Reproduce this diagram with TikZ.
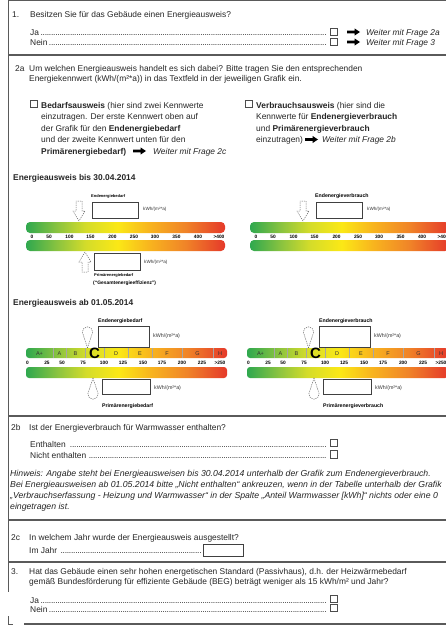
\documentclass[tikz,border=0pt]{standalone}
\usepackage{fontspec}
\setmainfont{Liberation Sans}
\definecolor{tcol}{HTML}{262626}
\definecolor{fcol}{HTML}{5A5A5A}
\definecolor{eg}{HTML}{2FA84F}
\definecolor{eg2}{HTML}{8CC43F}
\definecolor{eyg}{HTML}{D4DC2A}
\definecolor{ey}{HTML}{FBE816}
\definecolor{eo1}{HTML}{F8B41E}
\definecolor{eo}{HTML}{F08428}
\definecolor{er}{HTML}{E5392A}
\pgfdeclarehorizontalshading{energy}{100bp}{color(0bp)=(eg); color(25bp)=(eg); color(33bp)=(eg2); color(40bp)=(eyg); color(48bp)=(ey); color(56bp)=(eo1); color(65bp)=(eo); color(75bp)=(er); color(100bp)=(er)}
\newcommand\dotlead{\leaders\hbox to 2.1pt{\hss.\hss}\hfill}
\tikzset{
 txt/.style={anchor=base west, inner sep=0pt, text=tcol, font=\fontsize{8.4}{10}\selectfont},
 itxt/.style={anchor=base west, inner sep=0pt, text=tcol, font=\fontsize{8.4}{10}\selectfont\itshape},
 htxt/.style={anchor=base west, inner sep=0pt, text=tcol, font=\fontsize{8.7}{10}\selectfont\itshape},
 framel/.style={draw=fcol, line width=1.1pt},
 cbox/.style={draw=black!70, line width=0.6pt, minimum size=7.5pt, inner sep=0pt, anchor=south west},
 vbox/.style={draw=black!75, line width=0.6pt, inner sep=0pt, anchor=north west},
 lbl/.style={inner sep=0pt, text=black, anchor=base west, font=\bfseries\fontsize{4}{5}\selectfont},
 lblb/.style={inner sep=0pt, text=black, anchor=base west, font=\bfseries\fontsize{5.2}{6}\selectfont},
 num/.style={inner sep=0pt, text=black, font=\bfseries\fontsize{4.8}{5}\selectfont},
 cls/.style={inner sep=0pt, text=black!80, font=\fontsize{5.5}{6}\selectfont},
 kwh/.style={inner sep=0pt, anchor=west, text=black!80, font=\fontsize{4.6}{5}\selectfont},
 dashmark/.style={draw=black!60, line width=0.5pt, dash pattern=on 1.2pt off 1pt},
 ebar/.style={shading=energy, rounded corners=4pt},
 fatarr/.pic={\fill[black] (0,-1.4) -- (7.5,-1.4) -- (7.5,-3.6) -- (13,0) -- (7.5,3.6) -- (7.5,1.4) -- (0,1.4) -- cycle;},
 dnarr/.pic={\draw[dashmark] (0,0) -- (-6,-10) -- (-3,-10) -- (-3,-20) -- (3,-20) -- (3,-10) -- (6,-10) -- cycle;},
 drop/.pic={\draw[dashmark] (0,0) -- (-5.2,-16) arc[start angle=180, end angle=360, radius=5.2] -- cycle;},
}
\begin{document}
\begin{tikzpicture}[x=1pt,y=-1pt]
\useasboundingbox (0,0) rectangle (446,634);
\fill[white] (0,0) rectangle (446,634);
\clip (0,0) rectangle (446,634);
% frame
\draw[framel] (8.3,0.8) -- (446,0.8);
\draw[framel] (8.3,0) -- (8.3,592);
\draw[framel] (8.3,55) -- (446,55);
\draw[framel] (8.3,416) -- (446,416);
\draw[framel] (8.3,520) -- (446,520);
\draw[framel] (8.3,562) -- (446,562);
\draw[framel] (24,624) -- (446,624);
\draw[framel] (8.3,616) -- (8.3,624.5) -- (13,624.5);
% section 1
\node[txt] (n1) at (12,18) {1.};
\node[txt] (q1) at (30,18) {Besitzen Sie für das Gebäude einen Energieausweis?};
\node[txt] (ja1) at (30,35.5) {\makebox[298pt][l]{Ja\dotlead}};
\node[cbox] (cja1) at (329.5,36) {};
\pic at (347,32) {fatarr};
\node[itxt] (w2a) at (366,35.5) {Weiter mit Frage 2a};
\node[txt] (nein1) at (30,45.5) {\makebox[298pt][l]{Nein\dotlead}};
\node[cbox] (cnein1) at (329.5,46) {};
\pic at (347,42) {fatarr};
\node[itxt] (w3) at (366,45.5) {Weiter mit Frage 3};
% section 2a
\node[txt] (n2a) at (15,71) {2a};
\node[txt] (q2a1) at (29,71) {Um welchen Energieausweis handelt es sich dabei? Bitte tragen Sie den entsprechenden};
\node[txt] (q2a2) at (29,81.5) {Energiekennwert (kWh/(m²*a)) in das Textfeld in der jeweiligen Grafik ein.};
\node[cbox, minimum size=7pt] (cbed) at (30,108) {};
\node[txt] (l1) at (41,108) {\textbf{Bedarfsausweis} (hier sind zwei Kennwerte};
\node[txt] (l2) at (41,119.5) {einzutragen. Der erste Kennwert oben auf};
\node[txt] (l3) at (41,131) {der Grafik für den \textbf{Endenergiebedarf}};
\node[txt] (l4) at (41,142.5) {und der zweite Kennwert unten für den};
\node[txt] (l5) at (41,154) {\textbf{Primärenergiebedarf)}};
\pic at (133,151) {fatarr};
\node[itxt] (w2c) at (153,154) {Weiter mit Frage 2c};
\node[cbox, minimum size=7pt] (cver) at (245,108) {};
\node[txt] (r1) at (256,108) {\textbf{Verbrauchsausweis} (hier sind die};
\node[txt] (r2) at (256,119.5) {Kennwerte für \textbf{Endenergieverbrauch}};
\node[txt] (r3) at (256,131) {und \textbf{Primärenergieverbrauch}};
\node[txt] (r4) at (256,142.5) {einzutragen)};
\pic at (305,139.5) {fatarr};
\node[itxt] (w2b) at (322,142.5) {Weiter mit Frage 2b};
% bis 30.04.2014
\node[txt, font=\bfseries\fontsize{8.4}{10}\selectfont] (t1) at (13,180.5) {Energieausweis bis 30.04.2014};
\foreach \sx/\lab in {0/Endenergiebedarf,224/Endenergieverbrauch}{
\begin{scope}[xshift=\sx pt]
\ifnum\sx=0
 \node[lbl] at (91,197) {\lab};
\else
 \node[lblb] at (91,197) {\lab};
\fi
\node[vbox, minimum width=46pt, minimum height=16pt] at (92,202) {};
\node[kwh] at (143,209) {kWh/(m²*a)};
\pic at (79,221) {dnarr};
\shade[ebar] (26,222) rectangle (225,233);
\foreach \v/\x in {0/32,50/49,100/69.5,150/90.5,200/112.5,250/134,300/155,350/176.5,400/198,>400/219}
  \node[num] at (\x,237) {\v};
\shade[ebar] (26,240) rectangle (225,251);
\end{scope}}
\pic[yscale=-1] at (85,252) {dnarr};
\node[vbox, minimum width=46pt, minimum height=17pt] (bp) at (94,253) {};
\node[kwh] at (144,262) {kWh/(m²*a)};
\node[lbl] at (94,276) {Primärenergiebedarf};
\node[lbl, font=\bfseries\fontsize{4.9}{5}\selectfont] at (93,284.5) {(“Gesamtenergieeffizienz”)};
% ab 01.05.2014
\node[txt, font=\bfseries\fontsize{8.4}{10}\selectfont] (t2) at (13,305.5) {Energieausweis ab 01.05.2014};
\foreach \sx/\lab/\labb in {0/Endenergiebedarf/Primärenergiebedarf,221/Endenergieverbrauch/Primärenergieverbrauch}{
\begin{scope}[xshift=\sx pt]
\node[lblb] at (98,322) {\lab};
\node[vbox, minimum width=51pt, minimum height=21pt] at (98,326) {};
\node[kwh, font=\fontsize{5.3}{6}\selectfont] at (153,336) {kWh/(m²*a)};
\pic at (87.5,348) {drop};
\shade[ebar, rounded corners=3pt] (26,348) rectangle (227,358);
\foreach \x in {53,66,85,104,128,152,182,213} \draw[black!35, line width=0.4pt] (\x,348) -- (\x,358);
\foreach \l/\x in {A+/39.5,A/59.5,B/75.5,D/116,E/140,F/167,G/197.5,H/220}
  \node[cls] at (\x,353.3) {\l};
\node[inner sep=0pt, font=\bfseries\fontsize{15}{15}\selectfont] at (94.5,353.5) {C};
\foreach \v/\x in {0/27.5,25/47,50/62,75/83,100/104,125/123,150/143,175/162,200/182,225/202,>250/220}
  \node[num] at (\x,363) {\v};
\shade[ebar, rounded corners=3pt] (26,367) rectangle (227,378);
\pic[yscale=-1] at (93,378) {drop};
\node[vbox, minimum width=48pt, minimum height=15pt] at (102,379) {};
\node[kwh, font=\fontsize{5.3}{6}\selectfont] at (154,388) {kWh/(m²*a)};
\node[lblb] at (102,407) {\labb};
\end{scope}}
% section 2b
\node[txt] (n2b) at (11,430.5) {2b};
\node[txt] (q2b) at (29,430.5) {Ist der Energieverbrauch für Warmwasser enthalten?};
\node[txt] (ent) at (30,447) {\makebox[298pt][l]{Enthalten \dotlead}};
\node[cbox] (cent) at (329.5,447) {};
\node[txt] (nent) at (30,458.5) {\makebox[298pt][l]{Nicht enthalten \dotlead}};
\node[cbox] (cnent) at (329.5,458.5) {};
\node[htxt] (h1) at (10,476) {Hinweis: Angabe steht bei Energieausweisen bis 30.04.2014 unterhalb der Grafik zum Endenergieverbrauch.};
\node[htxt] (h2) at (10,487) {Bei Energieausweisen ab 01.05.2014 bitte „Nicht enthalten“ ankreuzen, wenn in der Tabelle unterhalb der Grafik};
\node[htxt] (h3) at (10,498) {„Verbrauchserfassung - Heizung und Warmwasser“ in der Spalte „Anteil Warmwasser [kWh]“ nichts oder eine 0};
\node[htxt] (h4) at (10,509) {eingetragen ist.};
% section 2c
\node[txt] (n2c) at (11,540) {2c};
\node[txt] (q2c) at (29,540) {In welchem Jahr wurde der Energieausweis ausgestellt?};
\node[txt] (jahr) at (29,553.5) {\makebox[174pt][l]{Im Jahr \dotlead}};
\node[vbox, minimum width=40pt, minimum height=12pt] (jbox) at (203,544) {};
% section 3
\node[txt] (n3) at (11,574.5) {3.};
\node[txt] (q3a) at (29,574.5) {Hat das Gebäude einen sehr hohen energetischen Standard (Passivhaus), d.h. der Heizwärmebedarf};
\node[txt] (q3b) at (29,584.5) {gemäß Bundesförderung für effiziente Gebäude (BEG) beträgt weniger als 15 kWh/m² und Jahr?};
\node[txt] (ja3) at (30,603) {\makebox[298pt][l]{Ja\dotlead}};
\node[cbox] (cja3) at (329.5,603) {};
\node[txt] (nein3) at (30,612) {\makebox[298pt][l]{Nein\dotlead}};
\node[cbox] (cnein3) at (329.5,612) {};
\end{tikzpicture}
\end{document}
